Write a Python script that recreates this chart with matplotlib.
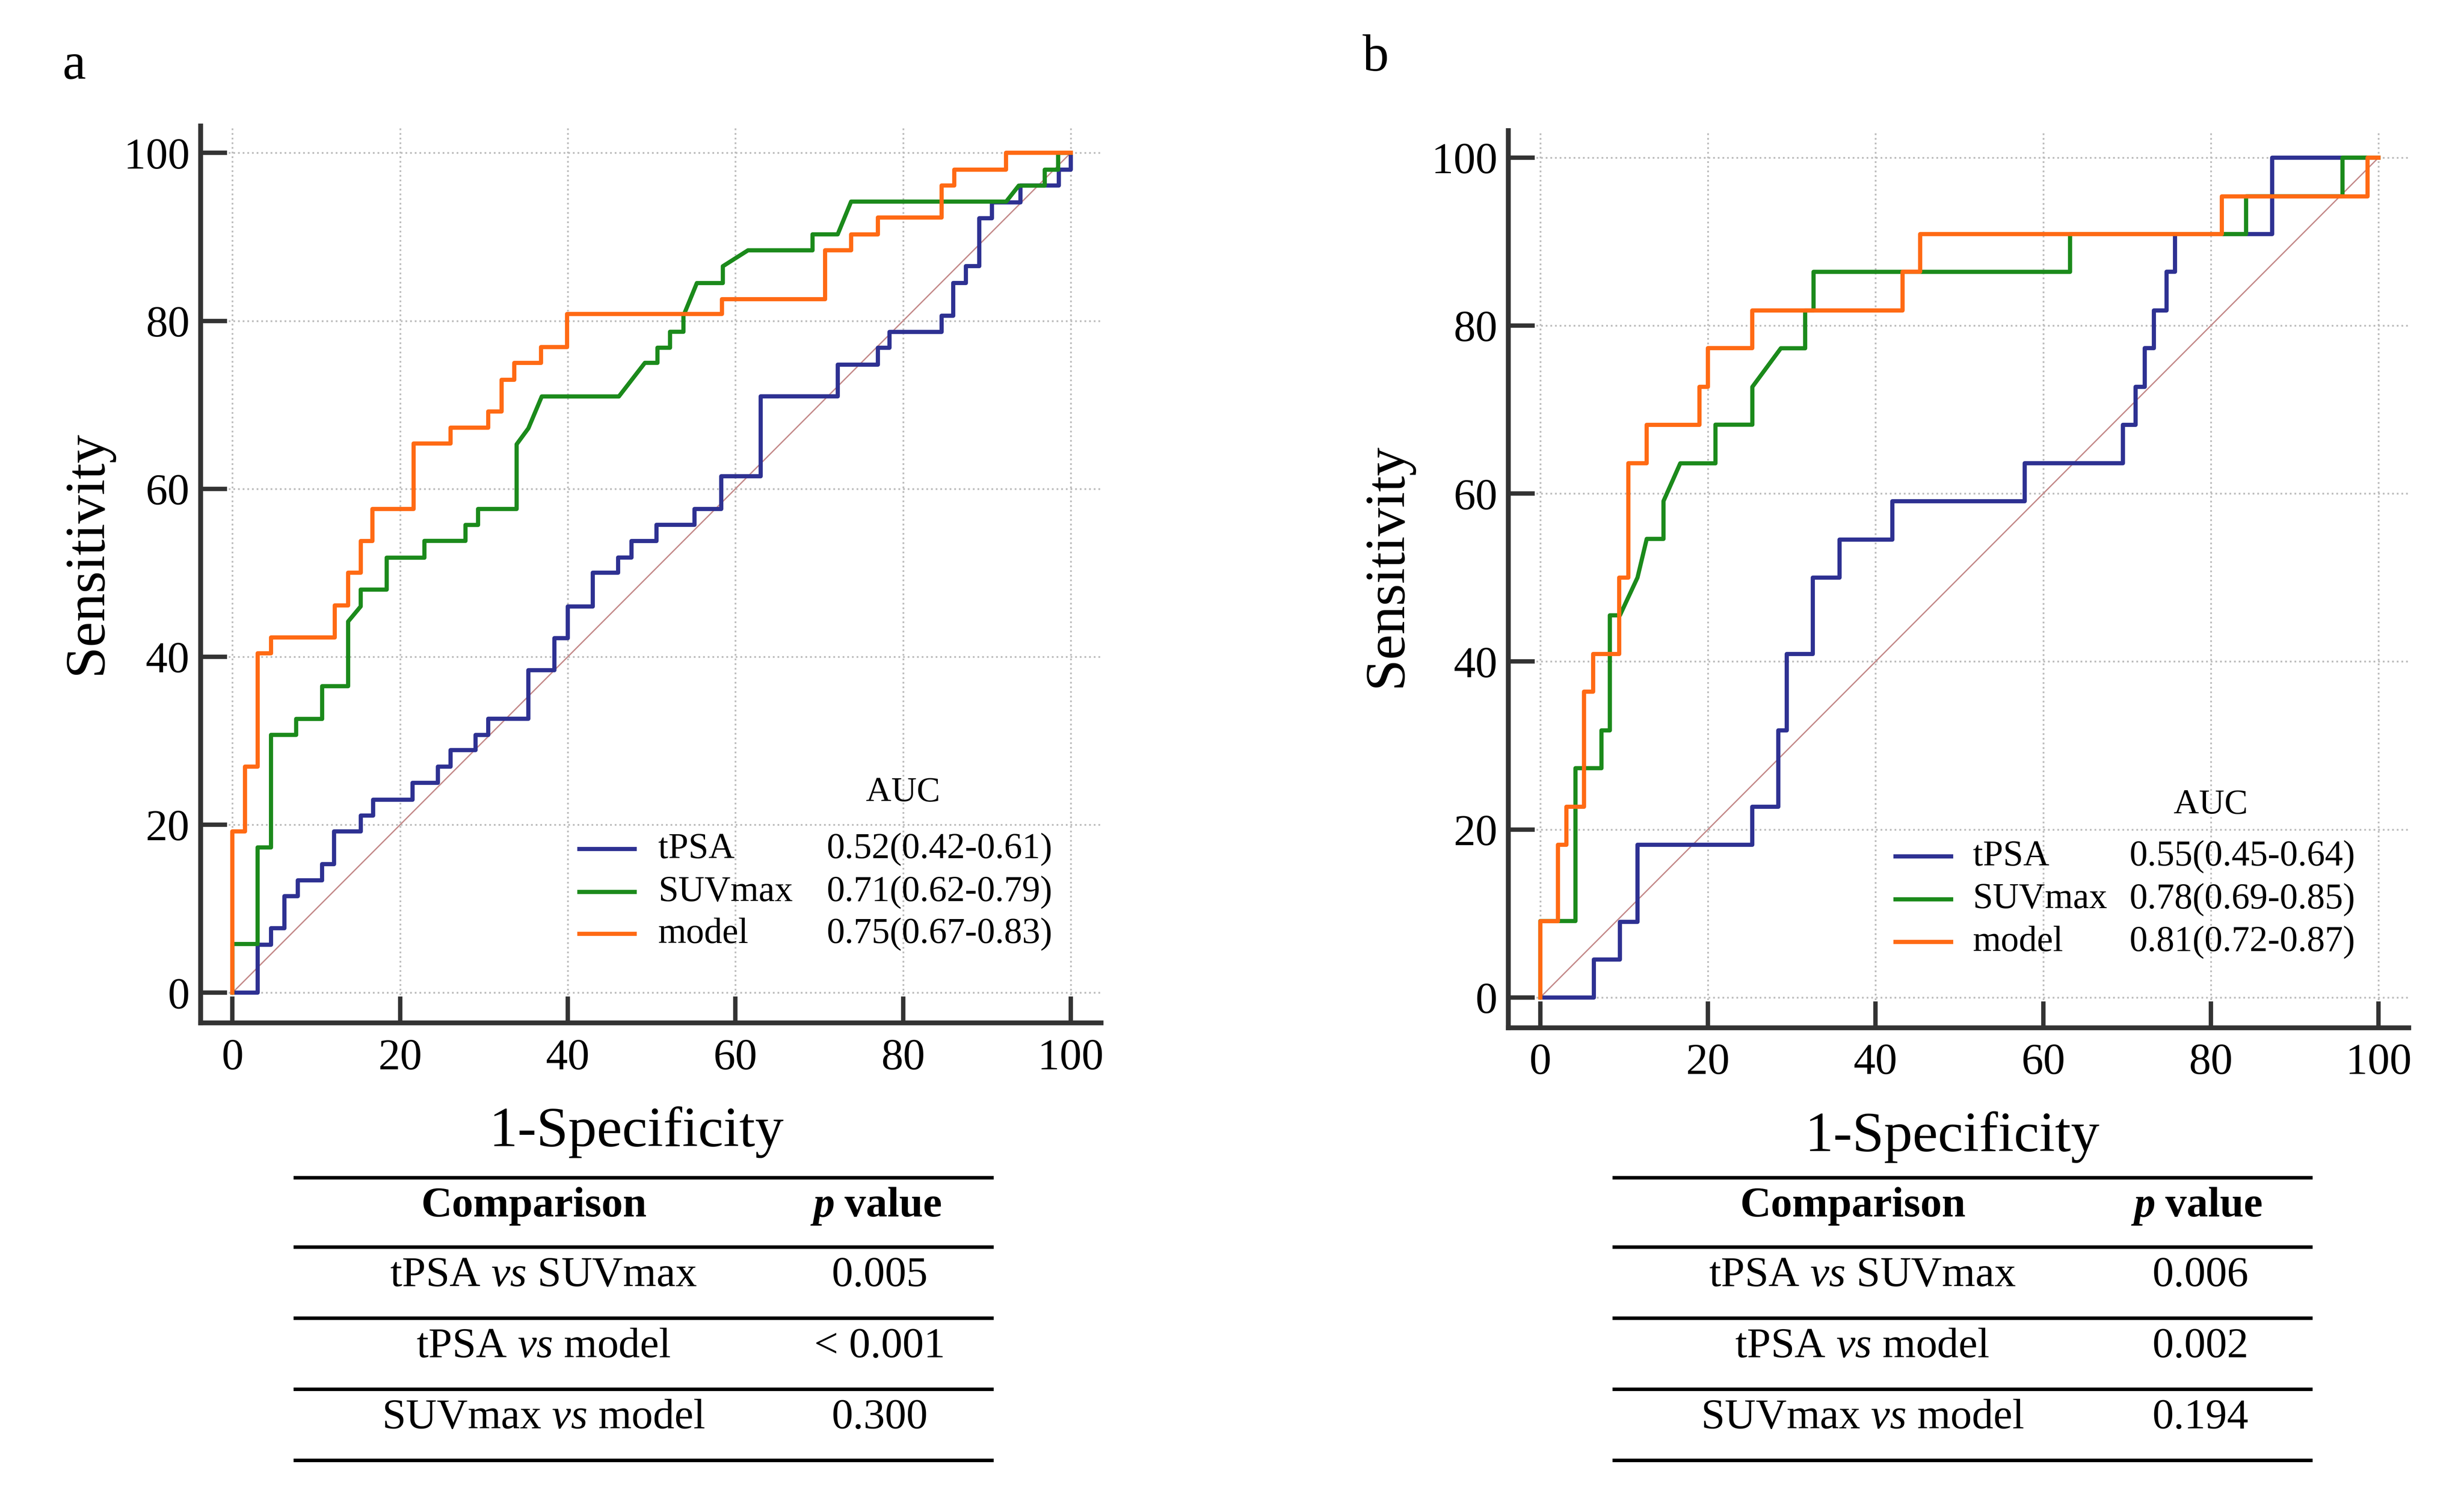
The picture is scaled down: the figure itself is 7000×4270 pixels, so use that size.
import numpy as np
import matplotlib
matplotlib.use("Agg")
import matplotlib.pyplot as plt

plt.rcParams['font.family'] = ['Liberation Serif', 'DejaVu Serif']
plt.rcParams['mathtext.fontset'] = 'custom'
plt.rcParams['mathtext.rm'] = 'Liberation Serif'
plt.rcParams['mathtext.it'] = 'Liberation Serif:italic'
plt.rcParams['mathtext.bf'] = 'Liberation Serif:bold'

# ROC curve vertices (1-specificity, sensitivity)
a_tpsa_x = [0, 3, 3, 4.6, 4.6, 6.2, 6.2, 7.8, 7.8, 10.7, 10.7, 12.1, 12.1, 15.3, 15.3, 16.8, 16.8, 21.5, 21.5, 24.5, 24.5,
            26, 26, 29, 29, 30.5, 30.5, 35.3, 35.3, 38.4, 38.4, 40, 40, 43, 43, 46, 46, 47.6, 47.6, 50.6, 50.6, 55.1, 55.1,
            58.3, 58.3, 63, 63, 72.2, 72.2, 77, 77, 78.4, 78.4, 84.6, 84.6, 86, 86, 87.5, 87.5, 89.1, 89.1, 90.6, 90.6,
            94, 94, 98.6, 98.6, 100, 100]
a_tpsa_y = [0, 0, 5.7, 5.7, 7.7, 7.7, 11.5, 11.5, 13.4, 13.4, 15.3, 15.3, 19.2, 19.2, 21.1, 21.1, 23, 23, 25, 25, 26.9,
            26.9, 28.9, 28.9, 30.7, 30.7, 32.6, 32.6, 38.4, 38.4, 42.2, 42.2, 46, 46, 50, 50, 51.8, 51.8, 53.8, 53.8, 55.7,
            55.7, 57.6, 57.6, 61.5, 61.5, 71, 71, 74.8, 74.8, 76.8, 76.8, 78.7, 78.7, 80.6, 80.6, 84.5, 84.5, 86.5, 86.5,
            92.2, 92.2, 94.1, 94.1, 96.1, 96.1, 98, 98, 100]
a_suv_x = [0, 0, 3, 3, 4.6, 4.6, 7.6, 7.6, 10.7, 10.7, 13.8, 13.8, 15.3, 15.3, 18.4, 18.4, 22.9, 22.9, 27.8, 27.8, 29.3,
           29.3, 33.9, 33.9, 35.3, 36.9, 46.1, 49.2, 50.7, 50.7, 52.2, 52.2, 53.8, 53.8, 55.4, 58.5, 58.5, 61.5, 69.2,
           69.2, 72.2, 73.8, 92.3, 93.8, 96.9, 96.9, 98.5, 98.5, 100]
a_suv_y = [0, 5.8, 5.8, 17.3, 17.3, 30.7, 30.7, 32.6, 32.6, 36.5, 36.5, 44.2, 46, 48, 48, 51.8, 51.8, 53.8, 53.8, 55.7,
           55.7, 57.6, 57.6, 65.3, 67.2, 71, 71, 75, 75, 76.8, 76.8, 78.7, 78.7, 80.6, 84.5, 84.5, 86.5, 88.4, 88.4,
           90.3, 90.3, 94.2, 94.2, 96.1, 96.1, 98, 98, 100, 100]
a_model_x = [0, 0, 1.5, 1.5, 3, 3, 4.6, 4.6, 12.2, 12.2, 13.8, 13.8, 15.3, 15.3, 16.7, 16.7, 21.6, 21.6, 26, 26, 30.5,
             30.5, 32.1, 32.1, 33.6, 33.6, 36.8, 36.8, 39.9, 39.9, 58.4, 58.4, 70.7, 70.7, 73.8, 73.8, 77, 77, 84.6, 84.6,
             86.1, 86.1, 92.3, 92.3, 100]
a_model_y = [0, 19.2, 19.2, 26.9, 26.9, 40.4, 40.4, 42.3, 42.3, 46.1, 46.1, 50, 50, 53.8, 53.8, 57.6, 57.6, 65.4, 65.4,
             67.3, 67.3, 69.2, 69.2, 73, 73, 75, 75, 76.9, 76.9, 80.8, 80.8, 82.6, 82.6, 88.4, 88.4, 90.3, 90.3, 92.3,
             92.3, 96.1, 96.1, 98, 98, 100, 100]

b_tpsa_x = [0, 6.4, 6.4, 9.5, 9.5, 11.6, 11.6, 25.3, 25.3, 28.4, 28.4, 29.4, 29.4, 32.5, 32.5, 35.7, 35.7, 42, 42, 57.8,
            57.8, 69.5, 69.5, 71, 71, 72.1, 72.1, 73.2, 73.2, 74.7, 74.7, 75.7, 75.7, 87.3, 87.3, 100]
b_tpsa_y = [0, 0, 4.5, 4.5, 9, 9, 18.2, 18.2, 22.7, 22.7, 31.8, 31.8, 40.9, 40.9, 50, 50, 54.5, 54.5, 59.1, 59.1, 63.6,
            63.6, 68.2, 68.2, 72.7, 72.7, 77.3, 77.3, 81.8, 81.8, 86.4, 86.4, 90.9, 90.9, 100, 100]
b_suv_x = [0, 0, 4.2, 4.2, 7.3, 7.3, 8.3, 8.3, 9.5, 11.6, 12.7, 14.7, 14.7, 16.7, 20.9, 20.9, 25.3, 25.3, 28.7, 31.6,
           31.6, 32.6, 32.6, 63.2, 63.2, 84.2, 84.2, 95.7, 95.7, 100]
b_suv_y = [0, 9.1, 9.1, 27.3, 27.3, 31.8, 31.8, 45.5, 45.5, 50, 54.6, 54.6, 59.1, 63.6, 63.6, 68.2, 68.2, 72.7, 77.3,
           77.3, 81.8, 81.8, 86.4, 86.4, 90.9, 90.9, 95.4, 95.4, 100, 100]
b_model_x = [0, 0, 2.1, 2.1, 3.1, 3.1, 5.2, 5.2, 6.3, 6.3, 9.4, 9.4, 10.5, 10.5, 12.7, 12.7, 19, 19, 20, 20, 25.3, 25.3,
             43.2, 43.2, 45.3, 45.3, 81.3, 81.3, 98.7, 98.7, 100]
b_model_y = [0, 9.1, 9.1, 18.2, 18.2, 22.7, 22.7, 36.4, 36.4, 40.9, 40.9, 50, 50, 63.6, 63.6, 68.2, 68.2, 72.7, 72.7,
             77.3, 77.3, 81.8, 81.8, 86.4, 86.4, 90.9, 90.9, 95.4, 95.4, 100, 100]

series_names = ['tPSA', 'SUVmax', 'model']
auc_a = ['0.52(0.42-0.61)', '0.71(0.62-0.79)', '0.75(0.67-0.83)']
auc_b = ['0.55(0.45-0.64)', '0.78(0.69-0.85)', '0.81(0.72-0.87)']
comparisons = [r'tPSA $\it{vs}$ SUVmax', r'tPSA $\it{vs}$ model', r'SUVmax $\it{vs}$ model']
p_a = ['0.005', '< 0.001', '0.300']
p_b = ['0.006', '0.002', '0.194']
colors = ['#2e3192', '#1b8a1b', '#ff6a14']
ticks = [0, 20, 40, 60, 80, 100]

W, H = 1560, 952  # layout worked out in reference pixels
fig = plt.figure(figsize=(15.6, 9.518))


def fx(px):
    return px / W


def fy(py):
    return 1 - py / H


def roc_panel(left, bottom, curves, auc, letter, letter_xy, sens_xy, spec_xy, leg):
    ax = fig.add_axes([fx(left), fy(bottom), 570 / W, 568 / H])
    ax.set_xlim(-3.8, 103.6)
    ax.set_ylim(-3.6, 103.2)
    ax.plot([0, 100], [0, 100], color='#c48a8a', lw=0.6, zorder=2)
    for (x, y), c in zip(curves, colors):
        ax.plot(x, y, color=c, lw=1.9, zorder=3)
    ax.set_xticks(ticks)
    ax.set_yticks(ticks)
    ax.grid(True, color='#bdbdbd', ls=':', lw=0.8)
    for s in ['top', 'right']:
        ax.spines[s].set_visible(False)
    for s in ['left', 'bottom']:
        ax.spines[s].set_linewidth(2.2)
        ax.spines[s].set_color('#333333')
    ax.tick_params(direction='in', length=12, width=2, color='#333333', labelsize=20, pad=7)
    ax.tick_params(axis='y', pad=5)
    # legend with AUC column
    lx0, lx1, tx, vx, ax_auc, y_auc, rows = leg
    ax.text(ax_auc, y_auc, 'AUC', fontsize=16, ha='center', va='center')
    for yy, name, val, c in zip(rows, series_names, auc, colors):
        ax.plot([lx0, lx1], [yy, yy], color=c, lw=1.9, clip_on=False)
        ax.text(tx, yy, name, fontsize=16.5, ha='left', va='center')
        ax.text(vx, yy, val, fontsize=16.5, ha='right', va='center')
    fig.text(fx(letter_xy[0]), fy(letter_xy[1]), letter, fontsize=24, ha='center', va='center')
    fig.text(fx(sens_xy[0]), fy(sens_xy[1]), 'Sensitivity', fontsize=26, rotation=90, ha='center', va='center')
    fig.text(fx(spec_xy[0]), fy(spec_xy[1]), '1-Specificity', fontsize=26, ha='center', va='center')


def table(x0, x1, c1, c2, pvals):
    lines_y = [746, 790, 835, 880, 925]
    for yy in lines_y:
        fig.add_artist(plt.Line2D([fx(x0), fx(x1)], [fy(yy), fy(yy)], color='black', lw=1.6))
    fig.text(fx(c1), fy(764), 'Comparison', fontsize=19.5, weight='bold', ha='center', va='center')
    fig.text(fx(c2 - 42), fy(764), 'p', fontsize=19.5, weight='bold', style='italic', ha='left', va='center')
    fig.text(fx(c2 - 29), fy(764), ' value', fontsize=19.5, weight='bold', ha='left', va='center')
    for yy, comp, p in zip([808, 853, 898], comparisons, pvals):
        fig.text(fx(c1 + 6), fy(yy), comp, fontsize=19.5, ha='center', va='center')
        fig.text(fx(c2), fy(yy), p, fontsize=19.5, ha='center', va='center')


roc_panel(127, 648, [(a_tpsa_x, a_tpsa_y), (a_suv_x, a_suv_y), (a_model_x, a_model_y)], auc_a,
          'a', (47, 42), (55, 350), (403, 717),
          (41.4, 48.0, 50.8, 97.8, 80, 23.9, [17.1, 12.0, 7.0]))
roc_panel(955, 651, [(b_tpsa_x, b_tpsa_y), (b_suv_x, b_suv_y), (b_model_x, b_model_y)], auc_b,
          'b', (871, 37), (878, 358), (1236, 720),
          (42.4, 49.0, 51.6, 97.2, 80, 23.0, [16.8, 11.7, 6.6]))
table(187, 628, 338, 557, p_a)
table(1022, 1463, 1173, 1393, p_b)

fig.savefig('out.png', dpi=7000 / 15.6)
